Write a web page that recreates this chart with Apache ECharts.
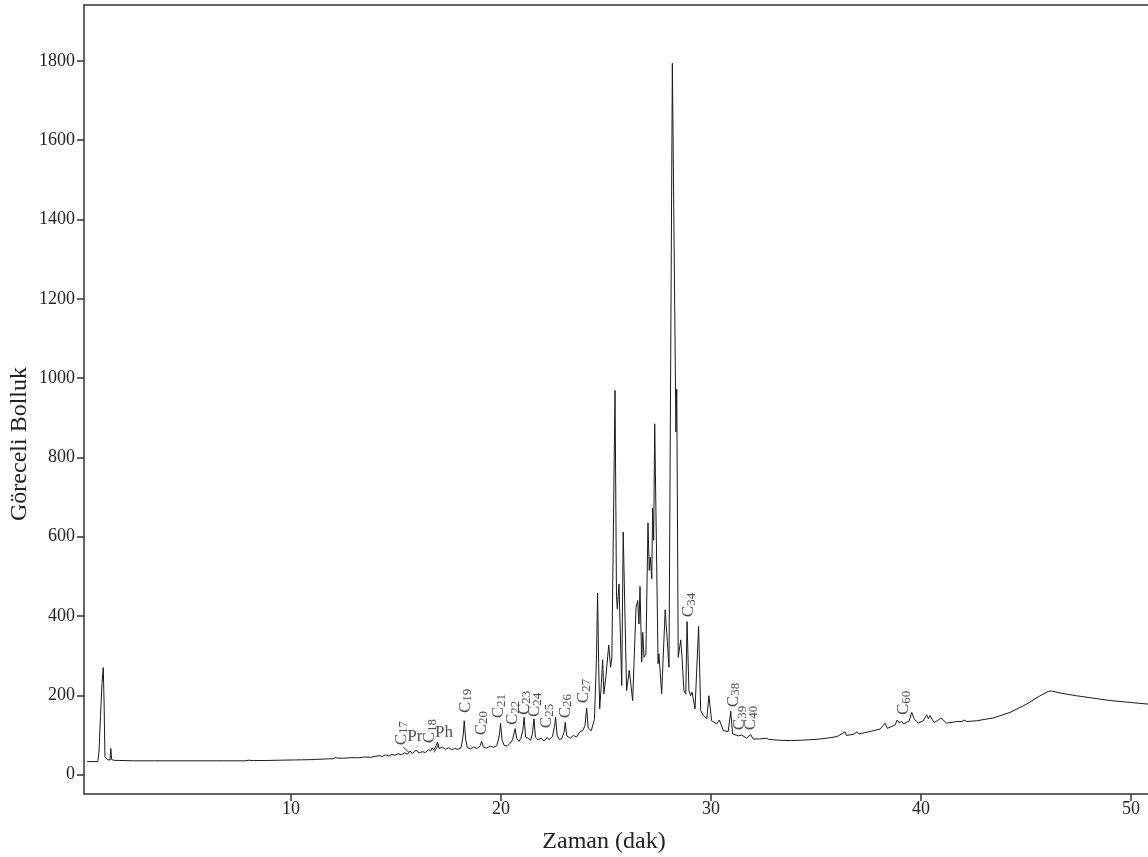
<!DOCTYPE html>
<html>
<head>
<meta charset="utf-8">
<title>Kromatogram</title>
<script src="https://cdn.jsdelivr.net/npm/echarts@6/dist/echarts.min.js"></script>
<style>
  html, body { margin: 0; padding: 0; background: #fff; }
  #chart { width: 1148px; height: 857px; }
</style>
</head>
<body>
<div id="chart"></div>
<script>
// Retention time (min) and relative abundance of the chromatogram trace
const zaman = [
  0.29, 0.80, 0.86, 0.93, 1.00, 1.06, 1.10, 1.14, 1.25, 1.38, 1.42, 1.46, 1.60, 1.78, 1.82, 1.86,
  2.5, 3.5, 5.0, 6.5, 7.8, 8.0, 8.2, 9.0, 9.9, 9.95, 10.0, 10.5, 11.05, 11.1, 11.15, 11.8,
  12.0, 12.1, 12.2, 12.5, 12.9, 13.2, 13.5, 13.8, 14.0, 14.2, 14.35, 14.5, 14.65, 14.8, 14.95,
  15.1, 15.25, 15.4, 15.55, 15.67, 15.78, 15.95, 16.1, 16.25, 16.4, 16.55, 16.65, 16.72, 16.8,
  16.9, 16.97, 17.05, 17.2, 17.35, 17.5, 17.65, 17.8, 17.95, 18.1, 18.2, 18.25, 18.32, 18.4,
  18.55, 18.7, 18.85, 19.0, 19.08, 19.16, 19.3, 19.5, 19.65, 19.8, 19.92, 19.98, 20.05, 20.15,
  20.3, 20.45, 20.55, 20.67, 20.75, 20.85, 20.95, 21.04, 21.1, 21.17, 21.3, 21.4, 21.5, 21.57,
  21.64, 21.75, 21.9, 22.05, 22.2, 22.3, 22.45, 22.55, 22.6, 22.67, 22.78, 22.9, 23.0, 23.06,
  23.13, 23.3, 23.45, 23.6, 23.75, 23.9, 24.0, 24.08, 24.15, 24.3, 24.45, 24.55, 24.6, 24.65,
  24.7, 24.78, 24.84, 24.9, 25.0, 25.13, 25.22, 25.28, 25.35, 25.43, 25.5, 25.54, 25.62, 25.75,
  25.82, 25.98, 26.11, 26.27, 26.43, 26.51, 26.57, 26.62, 26.70, 26.75, 26.81, 26.90, 27.00,
  27.06, 27.11, 27.18, 27.22, 27.27, 27.32, 27.48, 27.52, 27.65, 27.82, 28.00, 28.16, 28.33,
  28.37, 28.44, 28.56, 28.62, 28.71, 28.80, 28.86, 28.95, 29.03, 29.10, 29.24, 29.41, 29.51,
  29.62, 29.80, 29.90, 30.03, 30.27, 30.40, 30.59, 30.82, 30.94, 31.03, 31.30, 31.46, 31.55,
  31.70, 31.89, 32.01, 32.3, 32.65, 32.75, 33.2, 33.8, 34.3, 35.0, 35.5, 36.0, 36.38, 36.45,
  36.8, 36.95, 37.05, 37.5, 38.05, 38.29, 38.40, 38.76, 38.87, 38.97, 39.08, 39.16, 39.32,
  39.43, 39.56, 39.67, 39.76, 39.87, 40.11, 40.27, 40.35, 40.43, 40.62, 40.78, 40.95, 41.22,
  41.70, 41.95, 42.05, 42.18, 42.65, 43.44, 44.24, 45.03, 45.67, 46.06, 46.22, 46.62, 47.41,
  48.2, 49.0, 49.79, 50.81
];
const bolluk = [
  33, 33, 60, 150, 230, 270, 180, 45, 38, 37, 66, 38, 36, 36, 40, 35,
  35, 35, 35, 35, 35, 36.5, 35.5, 36, 37, 40, 37, 37.5, 38, 42, 38.5, 40,
  40, 43, 42, 41.5, 43, 42.5, 44.5, 44, 46, 48, 46, 50, 47, 51, 49,
  53, 50, 55, 52, 60, 53, 62, 55, 58, 56, 63, 60, 68, 62,
  72, 82, 66, 70, 64, 68, 63, 66, 64, 68, 100, 136, 88, 68,
  65, 70, 66, 72, 84, 70, 67, 72, 69, 73, 98, 130, 88, 74,
  72, 80, 88, 116, 92, 84, 92, 112, 145, 95, 92, 86, 104, 141,
  95, 88, 92, 85, 94, 88, 96, 122, 145, 100, 88, 92, 106, 132,
  98, 92, 99, 95, 108, 112, 124, 168, 118, 111, 140, 300, 458, 280,
  166, 230, 290, 204, 250, 327, 271, 296, 300, 969, 450, 418, 481, 225,
  612, 212, 263, 187, 422, 439, 380, 475, 284, 359, 296, 305, 635,
  515, 549, 494, 672, 591, 885, 280, 305, 204, 416, 271, 1794, 864,
  972, 296, 340, 296, 212, 204, 386, 212, 199, 208, 166, 374, 162,
  150, 141, 199, 136, 128, 138, 111, 109, 160, 103, 98, 100, 95,
  92, 101, 90, 90, 92, 89, 87, 86, 87, 89, 92, 96, 108, 99,
  102, 108, 103, 108, 115, 130, 117, 125, 138, 130, 135, 128, 132,
  135, 157, 141, 146, 130, 136, 151, 141, 149, 132, 136, 143, 130,
  134, 134, 138, 134, 136, 143, 157, 178, 199, 210, 211, 206, 199,
  193, 187, 183, 178
];

// Axis tick values
const xTicks = [10, 20, 30, 40, 50];
const yTicks = [0, 200, 400, 600, 800, 1000, 1200, 1400, 1600, 1800];

// n-alkane peak names and where their labels sit (time, abundance)
const alkaneNames  = ['C17', 'C18', 'C19', 'C20', 'C21', 'C22', 'C23', 'C24', 'C25', 'C26', 'C27', 'C34', 'C38', 'C39', 'C40', 'C60'];
const alkaneTimes  = [15.24, 16.62, 18.29, 19.05, 19.90, 20.57, 21.10, 21.62, 22.19, 23.05, 23.95, 28.95, 31.05, 31.38, 31.90, 39.19];
const alkaneLevels = [73, 78, 154, 98, 141, 124, 149, 144, 116, 141, 179, 396, 169, 111, 111, 149];

// Isoprenoids: pristane and phytane
const isoNames  = ['Pr', 'Ph'];
const isoTimes  = [15.90, 17.29];
const isoLevels = [95, 106];

// Short leader lines from crowded labels down to their peaks
const leaderStart = [[15.33, 70], [17.05, 78]];
const leaderEnd   = [[15.62, 56], [16.81, 56]];

const FONT = '"Liberation Serif", "Times New Roman", Times, serif';
const INK = '#1a1a1a';
const AXIS = '#333333';

const X_MIN = 0.143, X_MAX = 50.81;
const Y_MIN = -48.7, Y_MAX = 1941;

const chart = echarts.init(document.getElementById('chart'), null, { renderer: 'canvas', width: 1148, height: 857 });

const axisLineStyle = { color: AXIS, width: 1.5 };

const option = {
  animation: false,
  backgroundColor: '#ffffff',
  grid: { left: 84, right: 0, top: 5, bottom: 63, containLabel: false },
  xAxis: [
    {
      type: 'value', min: X_MIN, max: X_MAX, position: 'bottom',
      axisLine: { show: true, onZero: false, lineStyle: axisLineStyle },
      axisTick: { show: true, inside: false, length: 7, customValues: xTicks, lineStyle: axisLineStyle },
      axisLabel: { show: true, customValues: xTicks, margin: 6, fontFamily: FONT, fontSize: 18, color: '#222', formatter: v => String(v) },
      splitLine: { show: false }
    },
    {
      type: 'value', min: X_MIN, max: X_MAX, position: 'top',
      axisLine: { show: true, onZero: false, lineStyle: axisLineStyle },
      axisTick: { show: false }, axisLabel: { show: false }, splitLine: { show: false }
    }
  ],
  yAxis: {
    type: 'value', min: Y_MIN, max: Y_MAX,
    axisLine: { show: true, onZero: false, lineStyle: axisLineStyle },
    axisTick: { show: true, inside: false, length: 7, customValues: yTicks, lineStyle: axisLineStyle },
    axisLabel: { show: true, customValues: yTicks, margin: 9, fontFamily: FONT, fontSize: 18, color: '#222', formatter: v => String(v) },
    splitLine: { show: false }
  },
  graphic: [
    {
      type: 'text', x: 604, y: 842,
      style: { text: 'Zaman (dak)', font: '24px ' + FONT, fill: '#222', align: 'center', verticalAlign: 'middle' }
    },
    {
      type: 'text', x: 20, y: 444, rotation: Math.PI / 2,
      style: { text: 'Göreceli Bolluk', font: '24px ' + FONT, fill: '#222', align: 'center', verticalAlign: 'middle' }
    }
  ],
  series: [
    {
      name: 'TIC',
      type: 'line',
      xAxisIndex: 0,
      data: zaman.map((t, i) => [t, bolluk[i]]),
      showSymbol: false,
      symbol: 'none',
      smooth: false,
      sampling: null,
      silent: true,
      lineStyle: { color: INK, width: 1 },
      markLine: {
        silent: true,
        symbol: ['none', 'none'],
        label: { show: false },
        lineStyle: { color: INK, width: 0.8, type: 'solid' },
        data: leaderStart.map((p, i) => [{ coord: p }, { coord: leaderEnd[i] }])
      }
    },
    {
      name: 'n-alkanlar',
      type: 'scatter',
      xAxisIndex: 0,
      silent: true,
      symbol: 'circle',
      symbolSize: 1,
      itemStyle: { color: 'rgba(0,0,0,0)' },
      data: alkaneNames.map((n, i) => ({ name: n, value: [alkaneTimes[i], alkaneLevels[i]] })),
      label: {
        show: true,
        position: 'top',
        distance: 0,
        rotate: 90,
        align: 'left',
        verticalAlign: 'middle',
        formatter: p => '{c|C}{s|' + p.name.slice(1) + '}',
        rich: {
          c: { fontFamily: FONT, fontSize: 17, lineHeight: 18, color: '#222' },
          s: { fontFamily: FONT, fontSize: 13, lineHeight: 12, verticalAlign: 'bottom', color: '#222' }
        }
      }
    },
    {
      name: 'izoprenoidler',
      type: 'scatter',
      xAxisIndex: 0,
      silent: true,
      symbol: 'circle',
      symbolSize: 1,
      itemStyle: { color: 'rgba(0,0,0,0)' },
      data: isoNames.map((n, i) => ({ name: n, value: [isoTimes[i], isoLevels[i]] })),
      label: {
        show: true,
        position: 'inside',
        formatter: p => p.name,
        fontFamily: FONT, fontSize: 17, color: '#222',
        align: 'center', verticalAlign: 'middle'
      }
    }
  ]
};

chart.setOption(option);
</script>
</body>
</html>
